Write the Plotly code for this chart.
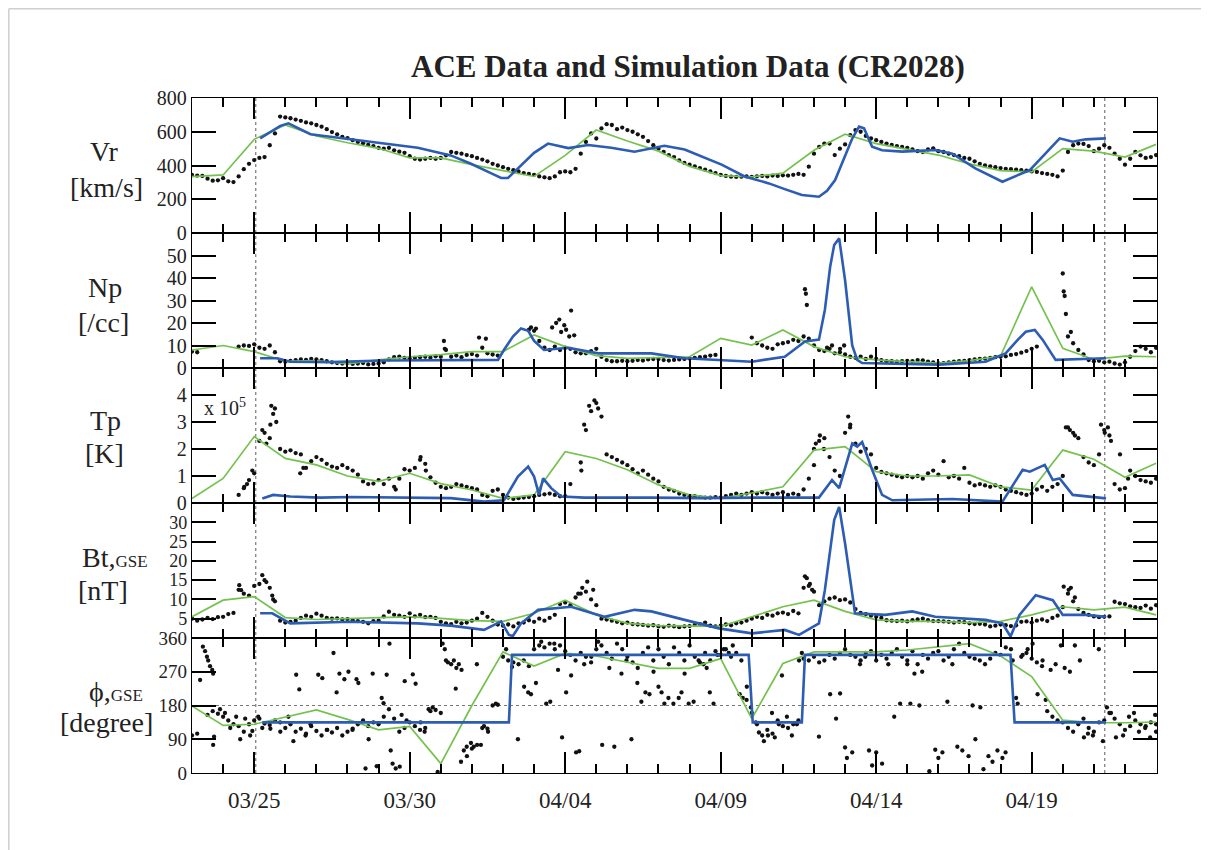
import numpy as np
import plotly.graph_objects as go
from plotly.subplots import make_subplots

nan = None
STEP = 1.0 / 6.0  # ACE samples every 4 hours, days since 03/23 00:00

# ---------------- ACE observations (black dots) ----------------
vr_ace = [
    344, 340, 338, 322, 310, 312,
    325, 306, 302, 335, 378, 410,
    432, 445, 450, 520, 590, 690,
    685, 680, 672, 665, 655, 650,
    640, 630, 615, 598, 585, 570,
    562, 550, 540, 532, 522, 515,
    505, 500, 505, 490, 482, 475,
    455, 440, 435, 440, 445, 440,
    445, 460, 480, 475, 470, 462,
    455, 445, 435, 425, 410, 400,
    390, 380, 372, 365, 355, 350,
    345, 335, 330, 325, 335, 360,
    365, 360, 380, 470, 540, 590,
    560, 620, 645, 640, 615, 625,
    610, 600, 585, 570, 545, 520,
    500, 480, 462, 450, 430, 415,
    405, 395, 385, 375, 365, 355,
    345, 338, 334, 332, 334, 335,
    333, 336, 338, 335, 340, 338,
    342, 340, 345, 350, 345, 393,
    470, 510, 530, 530, 462, 500,
    525, 580, 610, 600, 575, 560,
    550, 540, 530, 522, 515, 510,
    505, 495, 485, 480, 495, 502,
    485, 480, 470, 462, 455, 445,
    440, 425, 410, 400, 395, 390,
    385, 380, 378, 375, 372, 370,
    365, 362, 355, 350, 345, 335,
    370, 480, 520, 530, 528, 515,
    485, 500, 520, 505, 470, 440,
    405, 440, 480, 460, 445, 450,
    462]

np_ace = [
    7.3, 7.0, nan, nan, nan, nan,
    nan, nan, nan, 9.5, 10, 9.8,
    10.5, 9, 8.5, 10, 7, 3,
    2.8, 3.2, 3.5, 3.8, 3.6, 4,
    3.8, 3.5, 3, 2.5, 2.2, 2,
    2.2, 1.8, 2, 2.2, 1.6, 1.8,
    2, 2.5, 3.8, 4.8, 5, 4.5,
    4.2, 4.5, 4.8, 5, 4.6, 5.2,
    5, 8, 5, 5.5, 4.8, 5.8,
    6.2, 5.5, 9, 6.5, 6, 5.5,
    nan, nan, nan, nan, nan, 17,
    16.5, 12, 9, 8, 9.5, 8,
    9, 8.5, 7, 6.5, 6.5, 7.5,
    8.5, 5, 3.5, 3, 3, 3.2,
    3, 3.2, 3.5, 3.3, 3.8, 4,
    4, 3.5, 3.3, 3.6, 3.8, 4,
    4.2, 4.5, 4.8, 5, 5.5, 5.8,
    nan, nan, nan, nan, nan, nan,
    13.5, 11, 10, 9, 8.5, 10.5,
    11, 11.5, 12.5, 12, 14, 13,
    10, 8, 7.5, 8.5, 6.5, 7,
    6, 5, 4.5, 5, 4, 5,
    4, 3.5, 3, 3, 2.8, 3,
    3.2, 3, 3.5, 3.4, 2.8, 2.5,
    2, 2.2, 2.5, 2.8, 3, 3.2,
    3.5, 3.8, 4, 4.2, 4.5, 4.8,
    5, 5.2, 5.8, 6.2, 6.8, 7.5,
    8.5, 9.5, nan, nan, nan, nan,
    nan, 14, 11, 8, 6, 3.5,
    3, 3.2, 2.5, 2.8, 2, 1.5,
    2.5, 5, 7.5, 9.5, 8.5, 7,
    9]

tp_ace = [  # units of 1e5 K
    nan, nan, nan, nan, nan, nan,
    nan, nan, nan, 0.3, 0.55, 0.85,
    1.1, 2.3, 2.6, 2.4, 3.5, 2.0,
    1.9, 1.95, 1.85, 1.8, 1.3, 1.55,
    1.7, 1.6, 1.45, 1.35, 1.3, 1.4,
    1.3, 1.2, 1.05, 0.8, 0.7, 0.72,
    0.85, 0.7, 0.9, 0.6, 0.9, 1.25,
    1.2, 1.3, 1.6, 1.45, 0.95, 0.75,
    0.6, 0.55, 0.6, 0.7, 0.65, 0.6,
    0.55, 0.5, 0.3, 0.25, 0.45, 0.5,
    0.3, 0.2, 0.15, 0.18, 0.2, 0.22,
    0.25, 0.3, 0.32, 0.35, 0.3, 0.25,
    0.25, 0.7, nan, 1.5, 2.7, 3.4,
    3.7, 3.2, 1.8, 1.7, 1.6, 1.5,
    1.4, 1.25, 1.1, 1.2, 1.05, 0.9,
    0.8, 0.6, 0.5, 0.45, 0.35, 0.3,
    0.25, 0.25, 0.22, 0.2, 0.2, 0.22,
    0.2, 0.25, 0.3, 0.35, 0.3, 0.35,
    0.4, 0.35, 0.4, 0.35, 0.3, 0.35,
    0.4, 0.3, 0.35, 0.3, 0.5, 0.9,
    2.0, 2.3, 2.4, 1.7, 1.2, 1.0,
    2.6, 2.9, 2.2, 1.9, 2.0, 1.8,
    1.3, 1.15, 1.1, 1.05, 1.0, 0.95,
    1.0, 0.95, 1.0, 0.9, 1.1, 1.2,
    1.05, 1.55, 0.95, 1.0, 0.9, 1.3,
    0.75, 0.65, 0.7, 0.65, 0.6, 0.65,
    0.6, 0.5, 0.45, 0.4, 0.35, 0.3,
    0.35, 0.5, 0.6, 0.45, 0.6, 0.7,
    1.0, 2.8, 2.6, 2.4, 1.7, 1.5,
    1.4, 1.8, 2.7, 2.5, 0.7, 0.5,
    0.55, 1.2, 1.0, 0.85, 0.8, 0.75,
    0.9]

bt_ace = [
    5, 4.5, 4.8, 5.2, 4.9, 5.4,
    5.5, 6.2, 6.5, 12.5, 11.5, 11,
    13.5, 14, 15, 13, 9.5, 4.5,
    4.0, 4.2, 4.5, 5.2, 5.8, 5.5,
    6.3, 5.8, 5.2, 5, 5.1, 4.8,
    4.9, 4.6, 4.4, 4.2, 3.8, 4.4,
    4.5, 5.6, 6.8, 6, 5.8, 5.5,
    6.4, 5.6, 6, 5.4, 5.5, 5.2,
    4.2, 3.8, 3.6, 4.2, 3.8, 4,
    4.5, 5, 6.5, 5.5, 4.5, 3.5,
    3.2, 3.5, 3, 3.8, 4, 4.6,
    4.2, 5, 4.5, 5.2, 6, 8.8,
    9.2, 8.5, 10.5, 11.5, 12, 10,
    8.5, 5, 4.8, 4.5, 4.2, 3.8,
    4, 3.6, 3.5, 3.4, 3.2, 3.3,
    3, 2.9, 3.2, 3, 2.8, 3,
    3.1, 3.4, 3.6, 4, 3.2, 3.0,
    3.2, 3.5, 3.3, 3.8, 4, 4.5,
    5, 5.5, 5.2, 6, 5.8, 6.4,
    6.6, 6.2, 7, 6.4, 13, 13.5,
    12, 8.5, 9.5, 10.2, 10.5, 9.8,
    10, 9.2, 7.5, 6.5, 6.2, 5.8,
    5.5, 5.2, 4.6, 4.5, 4.4, 4.5,
    4.3, 4.6, 4.8, 5, 4.6, 4.4,
    4.4, 4.3, 4.2, 4.0, 4.2, 4.1,
    3.8, 3.6, 3.7, 3.5, 3.0, 3.2,
    3.5, 3.3, 3.1, 3.3, 4.2, 4.3,
    4.0, 4.5, 4.8, 4.4, 5.2, 5.8,
    8, 11.5, 9.5, 7.5, 6.5, 6,
    5.6, 5.4, 5.5, 5.6, 9.4, 9.0,
    8.8, 8.2, 8.0, 7.8, 8.4, 7.6,
    8.5]

phi_ace = [
    100, 105, nan, 155, 165, 158,
    150, 140, 130, 125, 110, 130,
    140, 145, 132, 128, 140, 135,
    120, 130, 110, 118, 105, 125,
    112, 100, 115, 108, 120, 100,
    110, 118, 130, 140, 125, 135,
    130, 150, 170, 145, 110, 120,
    135, 125, 115, 120, 165, 168,
    160, 300, 290, 280, 275, 70,
    65, 75, 120, 118, 180, 182,
    310, 300, 295, 290, 300, 285,
    330, 340, 335, 345, 330, 340,
    325, 315, 300, 320, 310, 295,
    330, 340, 320, 305, 345, 330,
    310, 295, 280, 320, 335, 300,
    330, 310, 290, 335, 320, 300,
    340, 310, 295, 320, 300, 325,
    315, 330, 310, 320, 300, 195,
    160, 130, 100, 115, 105, 140,
    125, 120, 130, 140, 305, 300,
    310, 295, 300, 315, 305, 320,
    330, 315, 310, 300, 320, 325,
    300, 315, 305, 320, 330, 310,
    300, 325, 290, 315, 305, 320,
    325, 300, 310, 330, 345, 320,
    310, 305, 300, 290, 305, 320,
    315, 335, 330, 200, 310, 320,
    305, 295, 285, 165, 150, 140,
    135, 120, 110, 130, 145, 120,
    110, 135, 140, 160, 145, 130,
    115, 125, 140, 130, 125, 135,
    130]

# scattered ACE points off the main band (day, value)
np_extra_day = [8.10, 8.13, 9.23, 9.45, 10.90, 11.06, 11.58, 11.71, 11.81, 11.87, 11.97, 12.03,
                12.13, 12.19, 12.29, 19.71, 19.74, 19.77, 20.42, 20.58, 20.84, 20.97, 28.0, 28.03,
                28.06, 28.10, 28.26]
np_extra_val = [12, 8.5, 13.5, 13, 18, 17.5, 18, 20, 21.5, 16, 19, 17,
                14, 25.5, 14.5, 35, 33, 28, 9, 10, 8.5, 10, 42, 34,
                32, 24, 16]

tp_extra_day = [1.68, 1.77, 1.94, 2.26, 2.39, 2.52, 2.55, 2.61, 2.71, 3.48, 3.58, 6.55,
                7.35, 7.52, 12.52, 12.61, 12.77, 12.94, 13.06, 20.0, 20.06, 20.19, 20.32,
                21.10, 21.16, 28.10, 28.23, 28.39, 29.23, 29.35, 29.45, 29.55, 29.84, 30.10]
tp_extra_val = [0.6, 0.7, 1.2, 2.7, 2.2, 2.9, 3.6, 3.3, 3.0, 1.1, 1.3, 0.5,
                1.7, 1.2, 1.2, 2.9, 3.6, 3.8, 3.5, 1.4, 2.2, 2.5, 2.0,
                3.2, 2.8, 2.8, 2.7, 2.5, 2.9, 2.6, 2.8, 2.3, 1.8, 0.9]

bt_extra_day = [1.52, 1.58, 2.26, 2.39, 2.58, 2.61, 12.42, 12.55, 12.71, 12.90, 19.71, 19.77,
                19.87, 19.94, 28.03, 28.19, 28.26, 28.39]
bt_extra_val = [13.7, 12.4, 16.3, 14.5, 11, 10, 11.5, 13, 14.6, 12.5, 16, 15.5,
                14, 12.5, 13.3, 12.5, 13, 10.5]

phi_extra_day = [
    0.35, 0.42, 0.48, 0.52, 0.58, 0.65, 0.68, 0.26, 0.68, 0.71, 0.90, 1.06, 1.23, 1.42, 1.55,
    1.71, 1.87, 1.94, 2.13, 2.26, 2.52, 2.84, 3.10, 3.26, 3.35, 3.45, 3.65, 3.81, 4.06, 4.19,
    4.35, 4.55, 4.65, 4.74, 4.90, 5.03, 5.16, 5.29, 5.35, 5.58, 5.68, 5.81, 5.94, 6.10, 6.16,
    6.26, 6.35, 6.39, 6.45, 6.55, 6.68, 6.74, 6.84, 6.90, 7.10, 7.19, 7.35, 7.48, 7.61, 7.74,
    7.90, 8.06, 8.13, 8.23, 8.42, 8.48, 8.58, 8.65, 8.74, 8.84, 8.97, 9.06, 9.16, 9.29, 9.39,
    9.52, 9.77, 10.10, 10.29, 10.48, 10.68, 10.81, 10.90, 11.06, 11.23, 11.39, 11.52, 11.65,
    11.77, 11.90, 12.03, 12.19, 12.35, 12.45, 12.61, 12.84, 13.06, 13.19, 13.42, 13.58, 13.81,
    13.97, 14.13, 14.32, 14.45, 14.58, 14.71, 14.84, 15.0, 15.10, 15.19, 15.32, 15.48, 15.65,
    15.74, 15.84, 15.97, 16.13, 16.29, 16.45, 16.55, 16.65, 16.77, 16.90, 17.10, 17.26, 17.39,
    17.61, 17.71, 17.84, 17.97, 18.13, 18.23, 18.39, 18.52, 18.65, 18.74, 18.87, 18.97, 19.13,
    19.29, 19.45, 19.52, 19.61, 20.16, 20.52, 20.71, 20.84, 21.0, 21.06, 21.23, 21.48, 21.65,
    21.77, 21.87, 22.0, 22.19, 22.39, 22.58, 22.77, 23.0, 23.10, 23.23, 23.39, 23.48, 23.71,
    23.90, 24.0, 24.13, 24.29, 24.45, 24.61, 24.77, 24.97, 25.10, 25.19, 25.35, 25.45, 25.61,
    25.74, 25.90, 26.06, 26.16, 26.39, 26.55, 26.71, 26.87, 27.03, 27.19, 27.35, 27.45, 27.61,
    27.77, 27.94, 28.06, 28.23, 28.39, 28.55, 28.68, 28.81, 28.97, 29.16, 29.29, 29.42, 29.55,
    29.71, 29.94, 30.13, 30.29, 30.45, 30.65, 30.81, 30.97, 31.0]
phi_extra_val = [
    337, 325, 310, 300, 285, 275, 265, 248, 75, 97, 170, 160, 120, 150, 90,
    145, 100, 112, 150, 120, 118, 110, 150, 85, 262, 223, 100, 130, 262, 253,
    115, 320, 215, 265, 250, 270, 115, 250, 240, 12, 90, 265, 18, 200, 186,
    262, 345, 60, 25, 12, 17, 155, 245, 140, 263, 238, 135, 110, 170, 175,
    3, 345, 330, 295, 300, 225, 290, 30, 60, 45, 80, 70, 290, 75, 125,
    110, 185, 330, 283, 90, 230, 215, 210, 240, 350, 185, 190, 345,
    275, 95, 215, 260, 55, 58, 290, 310, 350, 75, 280, 70, 265,
    300, 90, 240, 190, 215, 210, 270, 230, 215, 185, 200, 185, 200,
    215, 265, 185, 190, 300, 290, 280, 215, 185, 315, 330, 320, 340,
    210, 200, 230, 175, 135, 108, 85, 100, 160, 95, 130, 260, 150,
    100, 130, 300, 320, 97, 210, 145, 212, 68, 40, 55, 290, 310,
    60, 20, 55, 25, 290, 150, 185, 290, 185, 265, 180, 270, 5,
    62, 40, 55, 190, 290, 70, 60, 45, 180, 90, 175, 10, 45,
    30, 60, 40, 55, 300, 185, 315, 330, 345, 210, 300, 195, 275,
    290, 340, 280, 270, 340, 300, 95, 105, 100, 330, 85, 175, 160,
    95, 100, 150, 160, 110, 120, 95, 155, 110]

# ---------------- Simulation 1 (green, daily values, days 0..31) ----------------
green_day = list(range(32))
green_vr = [334, 344, 555, 640, 575, 535, 502, 445, 445, 405, 370, 335, 460, 610, 545, 485,
            395, 340, 333, 355, 490, 585, 530, 498, 462, 410, 370, 362, 500, 485, 450, 525]
green_np = [8, 10, 7.3, 3, 3.3, 1.8, 3.6, 5, 5.9, 7.3, 7.3, 14.7, 9.5, 5.5, 4.3, 4.6,
            5, 13.2, 10.2, 16.9, 9.5, 5, 3.6, 2.8, 2.2, 3.3, 5.3, 36.1, 8.7, 3.8, 5.3, 5]
green_tp = [0.17, 0.91, 2.46, 1.65, 1.41, 1.0, 0.8, 1.1, 0.72, 0.48, 0.17, 0.3, 1.9, 1.65, 1.23, 0.67,
            0.3, 0.17, 0.37, 0.6, 1.96, 2.09, 1.16, 1.0, 1.0, 1.04, 0.6, 0.48, 1.96, 1.62, 0.95, 1.47]
green_bt = [5.5, 9.8, 10.7, 5.3, 4.8, 5.1, 5.3, 5.5, 5.1, 4.5, 4.3, 6.4, 9.8, 6, 3.8, 3.2,
            3.1, 3, 5.5, 8.1, 9.8, 6.9, 4.7, 4.3, 4.3, 4.0, 4.3, 6, 8.1, 7.3, 8.0, 6]
green_phi = [179, 127, 130, 150, 168, 143, 115, 124, 25, 180, 323, 285, 319, 312, 295, 279,
             279, 305, 145, 292, 323, 323, 323, 328, 336, 345, 312, 257, 141, 134, 134, 136]

# ---------------- Simulation 2 (blue) ----------------
blue_vr_day = [2.19, 2.52, 2.84, 3.10, 3.32, 3.81, 4.45, 5.10, 6.16, 7.26, 8.32, 8.97, 9.61, 9.94,
               10.16, 10.58, 11.0, 11.45, 11.77, 12.10, 12.74, 13.48, 14.23, 15.19, 15.84, 16.39,
               17.03, 17.77, 18.55, 19.06, 19.61, 20.16, 20.42, 20.68, 21.0, 21.23, 21.45, 21.61,
               21.87, 22.19, 22.84, 23.90, 24.45, 25.19, 26.06, 26.94, 27.9, 28.32, 28.74, 29.39]
blue_vr = [561, 600, 635, 650, 630, 585, 570, 555, 530, 505, 460, 410, 355, 326,
           326, 400, 475, 530, 515, 503, 521, 505, 482, 517, 495, 455,
           405, 335, 294, 260, 225, 215, 250, 314, 452, 560, 630, 620,
           511, 490, 482, 492, 470, 383, 304, 373, 561, 541, 555, 561]

blue_np_day = [2.19, 2.74, 3.16, 4.45, 6.16, 8.32, 9.84, 10.03, 10.32, 10.58, 10.81, 11.0, 11.32,
               12.10, 13.06, 14.35, 14.77, 15.84, 18.0, 19.06, 19.71, 20.16, 20.35, 20.52, 20.65,
               20.81, 21.0, 21.23, 21.39, 21.55, 24.03, 25.52, 26.16, 26.55, 26.81, 27.10, 27.35,
               27.77, 29.39]
blue_np = [4.3, 4.3, 2.8, 2.6, 3.3, 3.4, 3.6, 8, 14, 17.6, 16.5, 12, 8,
           9, 6.5, 6.5, 6.5, 4.3, 2.8, 5, 11.8, 12.6, 25.8, 45, 54.7,
           57.6, 39, 10, 3.6, 2.2, 1.5, 2.8, 6.5, 12.5, 16.1, 16.9, 12.6,
           3.6, 4.3]

blue_tp_day = [2.26, 2.61, 3.16, 4.13, 5.10, 6.71, 8.32, 9.39, 10.03, 10.48, 10.81, 11.0, 11.16,
               11.29, 11.55, 11.87, 12.61, 14.77, 16.39, 18.0, 20.16, 20.58, 20.81, 21.23, 21.39,
               21.55, 21.87, 22.19, 22.52, 24.45, 26.06, 26.71, 26.94, 27.42, 27.68, 27.9, 28.32,
               29.39]
blue_tp = [0.17, 0.3, 0.24, 0.2, 0.22, 0.2, 0.18, 0.05, 0.1, 0.98, 1.35, 0.98, 0.3,
           0.91, 0.55, 0.24, 0.2, 0.2, 0.18, 0.2, 0.2, 0.85, 0.55, 2.2, 2.09,
           2.26, 1.23, 0.3, 0.1, 0.15, 0.05, 1.23, 1.16, 1.41, 0.85, 0.91, 0.3,
           0.17]

blue_bt_day = [2.19, 2.58, 3.16, 5.10, 7.26, 8.32, 9.39, 9.94, 10.19, 10.32, 10.58, 11.13, 12.19,
               13.26, 14.23, 14.77, 15.84, 16.94, 18.0, 19.06, 19.52, 20.16, 20.35, 20.65, 20.81,
               21.0, 21.32, 22.29, 23.16, 23.9, 25.52, 26.06, 26.32, 26.61, 27.13, 27.68, 28.0,
               28.74, 29.39]
blue_bt = [6.4, 6.4, 3.8, 4.2, 3.8, 3.2, 2.1, 4.3, 0.8, 0.5, 3.8, 7.3, 8.1,
           5.5, 7.3, 6.9, 4.7, 2.5, 1.2, 2.1, 0.8, 3.8, 12.4, 30.6, 34,
           24.5, 6.4, 6, 6.9, 5.5, 4.7, 3.8, 0.4, 6, 11.1, 9.8, 6,
           6, 5.5]

blue_phi_day = [2.26, 10.19, 10.29, 17.9, 18.03, 19.61, 19.71, 26.32, 26.45, 29.39]
blue_phi = [135, 135, 315, 315, 135, 135, 315, 315, 135, 135]

# ---------------- axes text ----------------
tick_days = [2, 7, 12, 17, 22, 27]
tick_text = ["03/25", "03/30", "04/04", "04/09", "04/14", "04/19"]
cr_bounds = [2.05, 29.35]

panels = [
    dict(ace=vr_ace, xd=None, xv=None, green=green_vr, bd=blue_vr_day, bv=blue_vr,
         rng=[0, 800], ticks=[0, 200, 400, 600, 800], tfs=20,
         name="Vr", unit="[km/s]"),
    dict(ace=np_ace, xd=np_extra_day, xv=np_extra_val, green=green_np, bd=blue_np_day, bv=blue_np,
         rng=[0, 60], ticks=[0, 10, 20, 30, 40, 50], tfs=20,
         name="Np", unit="[/cc]"),
    dict(ace=tp_ace, xd=tp_extra_day, xv=tp_extra_val, green=green_tp, bd=blue_tp_day, bv=blue_tp,
         rng=[0, 5], ticks=[0, 1, 2, 3, 4], tfs=20,
         name="Tp", unit="[K]"),
    dict(ace=bt_ace, xd=bt_extra_day, xv=bt_extra_val, green=green_bt, bd=blue_bt_day, bv=blue_bt,
         rng=[0, 35], ticks=[5, 10, 15, 20, 25, 30], tfs=18,
         name="Bt,<span style='font-size:17px'>GSE</span>", unit="[nT]"),
    dict(ace=phi_ace, xd=phi_extra_day, xv=phi_extra_val, green=green_phi, bd=blue_phi_day, bv=blue_phi,
         rng=[0, 360], ticks=[0, 90, 180, 270, 360], tfs=19,
         name="ϕ,<span style='font-size:17px'>GSE</span>", unit="[degree]"),
]

BLACK = "#111111"
GREEN = "#74C24E"
BLUE = "#2C5CB4"
FONT = "Liberation Serif"

# page has an 8 px body margin: figure pixel = page pixel - 8
OFF = 8
W, H = 1209 - OFF, 850 - OFF
PL, PR, PT, PB = 192 - OFF, 1157 - OFF, 98 - OFF, 773 - OFF  # plot area in figure pixels
PW, PH = PR - PL, PB - PT


def px(xp):  # page x pixel -> paper fraction
    return (xp - OFF - PL) / PW


def py(yp):  # page y pixel -> paper fraction
    return (PB - (yp - OFF)) / PH


fig = make_subplots(rows=5, cols=1, shared_xaxes=True, vertical_spacing=0)

for r, p in enumerate(panels, start=1):
    vals = np.array(p["ace"], dtype=float)
    t = np.arange(len(vals)) * STEP
    fig.add_trace(go.Scatter(x=t, y=vals, mode="markers",
                             marker=dict(size=4.3, color=BLACK), hoverinfo="skip"), row=r, col=1)
    if p["xd"] is not None:
        fig.add_trace(go.Scatter(x=p["xd"], y=p["xv"], mode="markers",
                                 marker=dict(size=4.3, color=BLACK), hoverinfo="skip"), row=r, col=1)
    fig.add_trace(go.Scatter(x=green_day, y=p["green"], mode="lines",
                             line=dict(color=GREEN, width=1.7)), row=r, col=1)
    fig.add_trace(go.Scatter(x=p["bd"], y=p["bv"], mode="lines",
                             line=dict(color=BLUE, width=2.6)), row=r, col=1)

    fig.update_yaxes(row=r, col=1, range=p["rng"], tickmode="array", tickvals=p["ticks"],
                     ticks="inside", ticklen=24, tickwidth=2, tickcolor="black",
                     showline=True, linewidth=1.4, linecolor="black", mirror="ticks",
                     showgrid=False, zeroline=False,
                     tickfont=dict(family=FONT, size=p["tfs"], color="#222"))
    fig.update_xaxes(row=r, col=1, range=[0, 31.03], tickmode="array", tickvals=tick_days,
                     ticktext=tick_text, showticklabels=(r == 5),
                     ticks="inside", ticklen=21, tickwidth=2, tickcolor="black",
                     minor=dict(tickmode="array", tickvals=list(range(0, 32)), ticks="inside",
                                ticklen=9, tickwidth=2, tickcolor="black", showgrid=False),
                     showline=True, linewidth=1.4, linecolor="black", mirror="ticks",
                     showgrid=False, zeroline=False, ticklabelstandoff=6,
                     tickfont=dict(family=FONT, size=23, color="#222"))

# y-axis titles as two lines of text each (page pixel centres)
label_y = [(152, 187), (287, 322), (420, 454), (557, 590), (691, 722)]
label_x = [(104, 106), (105, 103), (105, 104), (115, 103), (116, 106)]
annotations = []
for p, (y1, y2), (x1, x2) in zip(panels, label_y, label_x):
    annotations.append(dict(text=p["name"], xref="paper", yref="paper",
                            x=px(x1), y=py(y1), xanchor="center", yanchor="middle",
                            showarrow=False, font=dict(family=FONT, size=28, color="#222")))
    annotations.append(dict(text=p["unit"], xref="paper", yref="paper",
                            x=px(x2), y=py(y2), xanchor="center", yanchor="middle",
                            showarrow=False, font=dict(family=FONT, size=28, color="#222")))

annotations.append(dict(text="x 10<sup>5</sup>", xref="paper", yref="paper",
                        x=px(202), y=py(407), xanchor="left", yanchor="middle",
                        showarrow=False, font=dict(family=FONT, size=20, color="#222")))
annotations.append(dict(text="<b>ACE Data and Simulation Data (CR2028)</b>", xref="paper", yref="paper",
                        x=px(688), y=py(66), xanchor="center", yanchor="middle",
                        showarrow=False, font=dict(family=FONT, size=31, color="#222")))

shapes = []
for cb in cr_bounds:
    shapes.append(dict(type="line", xref="x", yref="paper", x0=cb, x1=cb, y0=0, y1=1,
                       line=dict(color="#777", width=1.2, dash="dot"), layer="below"))
shapes.append(dict(type="line", xref="paper", yref="y5", x0=0, x1=1, y0=180, y1=180,
                   line=dict(color="#777", width=1.2, dash="dot"), layer="below"))
# light page frame along the top and left edges
edge_l, edge_t = -(PL - 0.8) / PW, 1 + (PT - 0.8) / PH
shapes.append(dict(type="line", xref="paper", yref="paper", x0=edge_l, x1=1 + (W - PR) / PW,
                   y0=edge_t, y1=edge_t, line=dict(color="#cfcfcf", width=1.5)))
shapes.append(dict(type="line", xref="paper", yref="paper", x0=edge_l, x1=edge_l,
                   y0=edge_t, y1=-(H - PB) / PH, line=dict(color="#cfcfcf", width=1.5)))

fig.update_layout(width=W, height=H, margin=dict(l=PL, r=W - PR, t=PT, b=H - PB),
                  paper_bgcolor="white", plot_bgcolor="white", showlegend=False,
                  font=dict(family=FONT, color="#222"),
                  annotations=annotations, shapes=shapes)

fig.write_html("out.html")
